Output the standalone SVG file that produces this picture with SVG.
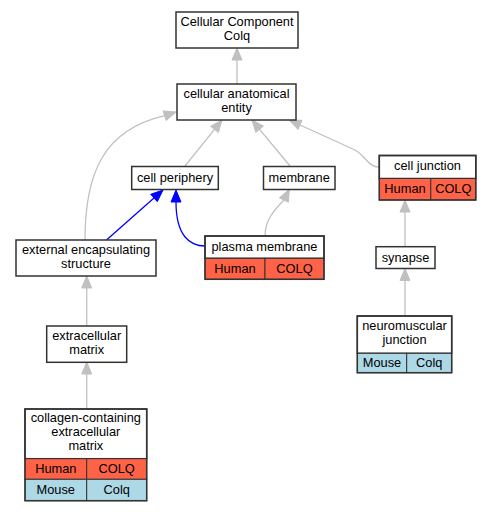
<svg xmlns="http://www.w3.org/2000/svg" width="492" height="512" viewBox="0 0 492 512">
<style>
text{font-family:"Liberation Sans",Arial,sans-serif;font-size:12.8px;fill:#000;text-anchor:middle}
.box{fill:#fff;stroke:#333;stroke-width:1.5}
.hu{fill:#ff6347;stroke:#333;stroke-width:1}
.mo{fill:#add8e6;stroke:#333;stroke-width:1}
.g{fill:none;stroke:#c0c0c0;stroke-width:1.3}
.ga{fill:#c0c0c0;stroke:#c0c0c0;stroke-width:1}
.b{fill:none;stroke:#0000ff;stroke-width:1.3}
.ba{fill:#0000ff;stroke:#0000ff;stroke-width:1}
</style>
<rect width="492" height="512" fill="#fff"/>
<g id="edges">
<path class="g" d="M237,84 L237,60"/>
<polygon class="ga" points="237,48 232,60 242,60"/>
<path class="g" d="M185,166 L214.5,129.4"/>
<polygon class="ga" points="222,120 218.4,132.5 210.6,126.3"/>
<path class="g" d="M290,166 L259.6,129.3"/>
<polygon class="ga" points="252,120 263.5,126.1 255.8,132.4"/>
<path class="g" d="M379,167 C368,167 366,156 355,150 L300,125"/>
<polygon class="ga" points="289,120 302,120.3 298,129.4"/>
<path class="g" d="M85,240 C85,172 104,130 164.6,115.7"/>
<polygon class="ga" points="176,112 166.2,120.5 163.1,111"/>
<path class="g" d="M265,236 C265,222 272,212 283.9,200"/>
<polygon class="ga" points="289.3,189.3 288.4,202.2 279.4,197.8"/>
<path class="b" d="M106.5,240 L154,198"/>
<polygon class="ba" points="163,190 157.3,201.7 150.7,194.3"/>
<path class="b" d="M205,246 C190,246 176,236 176,202"/>
<polygon class="ba" points="176,190 171,202 181,202"/>
<path class="g" d="M86.7,326 L86.7,288"/>
<polygon class="ga" points="86.7,276 81.7,288 91.7,288"/>
<path class="g" d="M86.7,409 L86.7,374"/>
<polygon class="ga" points="86.7,362 81.7,374 91.7,374"/>
<path class="g" d="M405,246.7 L405,212"/>
<polygon class="ga" points="405,200 400,212 410,212"/>
<path class="g" d="M405,316 L405,280.5"/>
<polygon class="ga" points="405,268.5 400,280.5 410,280.5"/>
</g>
<g id="cc_colq">
<rect class="box" x="176" y="12" width="122" height="36"/>
<text x="237" y="25.6">Cellular Component</text>
<text x="237" y="40">Colq</text>
</g>
<g id="cellular_anatomical_entity">
<rect class="box" x="177" y="84" width="119" height="36"/>
<text x="236.5" y="97.6">cellular anatomical</text>
<text x="236.5" y="112">entity</text>
</g>
<g id="cell_periphery">
<rect class="box" x="131.7" y="166.5" width="86.6" height="23"/>
<text x="175" y="182">cell periphery</text>
</g>
<g id="membrane">
<rect class="box" x="263.5" y="166.5" width="71.5" height="23"/>
<text x="299.2" y="182">membrane</text>
</g>
<g id="cell_junction">
<rect class="box" x="379.3" y="155.5" width="96.5" height="23"/>
<text x="427.5" y="170">cell junction</text>
<rect class="hu" x="379.3" y="178.5" width="51.5" height="21.5"/>
<rect class="hu" x="430.8" y="178.5" width="45" height="21.5"/>
<text x="405" y="193">Human</text>
<text x="453.3" y="193">COLQ</text>
<rect x="379.3" y="155.5" width="96.5" height="44.5" fill="none" stroke="#333" stroke-width="1.5"/>
</g>
<g id="external_encapsulating_structure">
<rect class="box" x="16" y="240" width="140" height="36"/>
<text x="86" y="253.6">external encapsulating</text>
<text x="86" y="268">structure</text>
</g>
<g id="plasma_membrane">
<rect class="box" x="205" y="236" width="119" height="22.3"/>
<text x="264.5" y="250.5">plasma membrane</text>
<rect class="hu" x="205" y="258.3" width="60" height="21"/>
<rect class="hu" x="265" y="258.3" width="59" height="21"/>
<text x="235" y="272.5">Human</text>
<text x="294.5" y="272.5">COLQ</text>
<rect x="205" y="236" width="119" height="43.3" fill="none" stroke="#333" stroke-width="1.5"/>
</g>
<g id="synapse">
<rect class="box" x="376" y="246.7" width="59" height="21.8"/>
<text x="405.5" y="261.5">synapse</text>
</g>
<g id="extracellular_matrix">
<rect class="box" x="46.7" y="326" width="80" height="36.3"/>
<text x="86.7" y="339.6">extracellular</text>
<text x="86.7" y="354">matrix</text>
</g>
<g id="neuromuscular_junction">
<rect class="box" x="357.3" y="316" width="94.4" height="37.3"/>
<text x="404.5" y="329.6">neuromuscular</text>
<text x="404.5" y="344">junction</text>
<rect class="mo" x="357.3" y="353.3" width="49.4" height="19.4"/>
<rect class="mo" x="406.7" y="353.3" width="45" height="19.4"/>
<text x="382" y="367">Mouse</text>
<text x="429.2" y="367">Colq</text>
<rect x="357.3" y="316" width="94.4" height="56.7" fill="none" stroke="#333" stroke-width="1.5"/>
</g>
<g id="collagen_containing_extracellular_matrix">
<rect class="box" x="25" y="409" width="121.7" height="49.7"/>
<text x="85.8" y="421.6">collagen-containing</text>
<text x="85.8" y="436">extracellular</text>
<text x="85.8" y="450.4">matrix</text>
<rect class="hu" x="25" y="458.7" width="61.7" height="20.6"/>
<rect class="hu" x="86.7" y="458.7" width="60" height="20.6"/>
<text x="55.8" y="473">Human</text>
<text x="116.7" y="473">COLQ</text>
<rect class="mo" x="25" y="479.3" width="61.7" height="21.4"/>
<rect class="mo" x="86.7" y="479.3" width="60" height="21.4"/>
<text x="55.8" y="494">Mouse</text>
<text x="116.7" y="494">Colq</text>
<rect x="25" y="409" width="121.7" height="91.7" fill="none" stroke="#333" stroke-width="1.5"/>
</g>
</svg>
